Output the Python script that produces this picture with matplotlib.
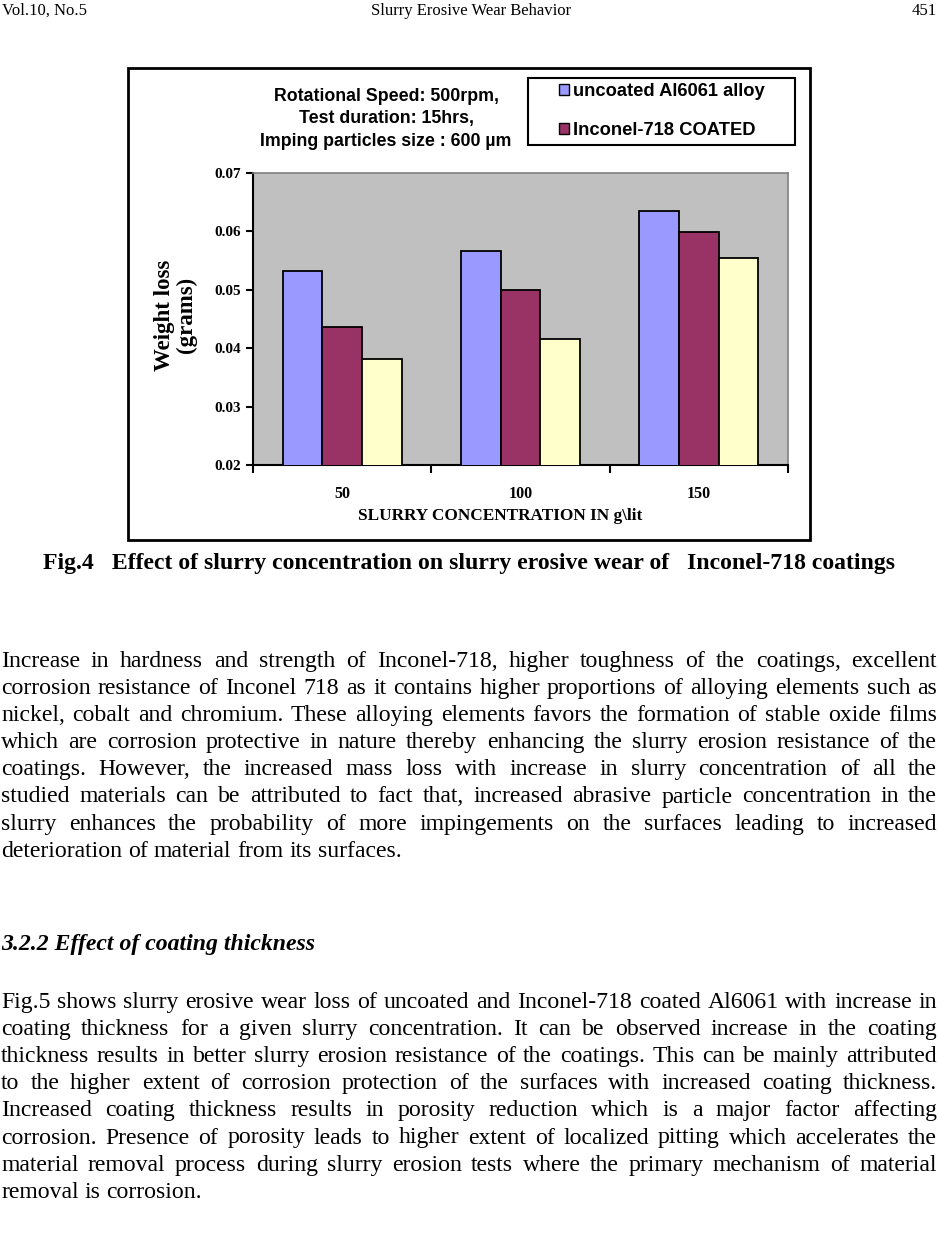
import numpy as np
import matplotlib.pyplot as plt
from matplotlib.patches import Rectangle, Patch

# data
concentrations = ["50", "100", "150"]
uncoated_al6061 = [0.0533, 0.0566, 0.0635]
inconel_coated = [0.0437, 0.0499, 0.0599]
third_series = [0.0381, 0.0416, 0.0554]

series_labels = ["uncoated Al6061 alloy", "Inconel-718 COATED", None]
series_colors = ["#9999FF", "#993366", "#FFFFCC"]

y_ticks = [0.02, 0.03, 0.04, 0.05, 0.06, 0.07]

para1 = [
    "Increase in hardness and strength of Inconel-718, higher toughness of the coatings, excellent",
    "corrosion resistance of Inconel 718 as it contains higher proportions of alloying elements such as",
    "nickel, cobalt and chromium. These alloying elements favors the formation of stable oxide films",
    "which are corrosion protective in nature thereby enhancing the slurry erosion resistance of the",
    "coatings. However, the increased mass loss with increase in slurry concentration of all the",
    "studied materials can be attributed to fact that, increased abrasive particle concentration in the",
    "slurry enhances the probability of more impingements on the surfaces leading to increased",
    "deterioration of material from its surfaces.",
]
para2 = [
    "Fig.5 shows slurry erosive wear loss of uncoated and Inconel-718 coated Al6061 with increase in",
    "coating thickness for a given slurry concentration. It can be observed increase in the coating",
    "thickness results in better slurry erosion resistance of the coatings. This can be mainly attributed",
    "to the higher extent of corrosion protection of the surfaces with increased coating thickness.",
    "Increased coating thickness results in porosity reduction which is a major factor affecting",
    "corrosion. Presence of porosity leads to higher extent of localized pitting which accelerates the",
    "material removal process during slurry erosion tests where the primary mechanism of material",
    "removal is corrosion.",
]

W, H = 938, 1236
SERIF = "Liberation Serif"
SANS = "Liberation Sans"
BODY = 17.1
LINE = 27.1

fig = plt.figure(figsize=(W / 100, H / 100), dpi=100)
renderer = fig.canvas.get_renderer()


def fx(px):
    return px / W


def fy(py):
    return 1 - py / H


def justified_line(text, base_y, x0=1, x1=937, size=BODY, last=False, **kw):
    words = text.split()
    items = [fig.text(0, fy(base_y), w, fontsize=size, family=SERIF, va="baseline", **kw)
             for w in words]
    widths = [t.get_window_extent(renderer).width for t in items]
    space = size * 0.25 * 100 / 72
    if last or len(words) < 2:
        gap = space
    else:
        gap = max((x1 - x0 - sum(widths)) / (len(words) - 1), 0.5 * space)
    x = x0
    for t, w in zip(items, widths):
        t.set_x(fx(x))
        x += w + gap


# page header
fig.text(fx(2), fy(15), "Vol.10, No.5", fontsize=12, family=SERIF, va="baseline")
fig.text(fx(471), fy(15), "Slurry Erosive Wear Behavior", fontsize=12, family=SERIF,
         va="baseline", ha="center")
fig.text(fx(937), fy(15), "451", fontsize=12, family=SERIF, va="baseline", ha="right")

# chart frame
fig.patches.append(Rectangle((fx(128), fy(540)), fx(810) - fx(128), fy(68) - fy(540),
                             transform=fig.transFigure, fill=False, ec="black", lw=2))

ax = fig.add_axes([fx(253), fy(465), fx(788) - fx(253), fy(173) - fy(465)])
ax.set_facecolor("#C0C0C0")

x = np.arange(len(concentrations))
bw = 0.222
for k, (vals, col) in enumerate(zip([uncoated_al6061, inconel_coated, third_series], series_colors)):
    ax.bar(x + (k - 1) * bw, vals, width=bw, color=col, edgecolor="black", linewidth=1.3, zorder=3)

ax.set_xlim(-0.5, len(concentrations) - 0.5)
ax.set_ylim(y_ticks[0], y_ticks[-1])
ax.set_yticks(y_ticks)
ax.set_yticklabels([f"{v:.2f}" for v in y_ticks], fontsize=11, family=SERIF, fontweight="bold")
ax.set_xticks(x)
ax.set_xticklabels(concentrations, fontsize=11.5, family=SERIF, fontweight="bold")
ax.set_xticks(np.arange(len(concentrations) + 1) - 0.5, minor=True)
ax.tick_params(axis="x", which="major", length=0, pad=15)
ax.tick_params(axis="x", which="minor", length=6, width=1.5, direction="out")
ax.tick_params(axis="y", length=5, width=1.5, direction="out", pad=4)
ax.set_xlabel("SLURRY CONCENTRATION IN g\\lit", fontsize=12.4, family=SERIF, fontweight="bold")
ax.xaxis.set_label_coords((500 - 253) / 535, (465 - 508) / 292)
ax.set_ylabel("Weight loss\n(grams)", fontsize=16.5, family=SERIF, fontweight="bold",
              labelpad=11, linespacing=1.05)
ax.yaxis.set_label_coords(-0.105, (465 - 315) / 292)
for s in ["left", "bottom"]:
    ax.spines[s].set_linewidth(1.5)
for s in ["top", "right"]:
    ax.spines[s].set_color("#808080")
    ax.spines[s].set_linewidth(1.2)

# test conditions
for line, yb in zip(["Rotational Speed: 500rpm,", "Test duration: 15hrs,",
                     "Imping particles size : 600 \u00b5m"], [101, 123, 146]):
    fig.text(fx(386), fy(yb), line, fontsize=12.8, family=SANS, fontweight="bold",
             ha="center", va="baseline")

# legend (Excel box shows only two entries)
fig.patches.append(Rectangle((fx(528), fy(145)), fx(795) - fx(528), fy(78) - fy(145),
                             transform=fig.transFigure, fill=False, ec="black", lw=1.5))
handles = [Patch(facecolor=c, edgecolor="black", linewidth=1.0)
           for c, l in zip(series_colors, series_labels) if l]
leg = fig.legend(handles, [l for l in series_labels if l], loc="upper left",
                 bbox_to_anchor=(fx(559), fy(83)), frameon=False, handlelength=0.55,
                 handleheight=0.55, handletextpad=0.2, labelspacing=1.2, borderaxespad=0,
                 borderpad=0, prop={"family": SANS, "weight": "bold", "size": 13.2})

# caption
fig.text(fx(469), fy(569), "Fig.4   Effect of slurry concentration on slurry erosive wear of   Inconel-718 coatings",
         fontsize=BODY, family=SERIF, fontweight="bold", ha="center", va="baseline")

# body text
for i, line in enumerate(para1):
    justified_line(line, 667 + i * LINE, last=(i == len(para1) - 1))

fig.text(fx(1), fy(950), "3.2.2 Effect of coating thickness", fontsize=BODY, family=SERIF,
         fontweight="bold", fontstyle="italic", va="baseline")

for i, line in enumerate(para2):
    justified_line(line, 1008 + i * LINE, last=(i == len(para2) - 1))

fig.savefig("out.png", dpi=100)
